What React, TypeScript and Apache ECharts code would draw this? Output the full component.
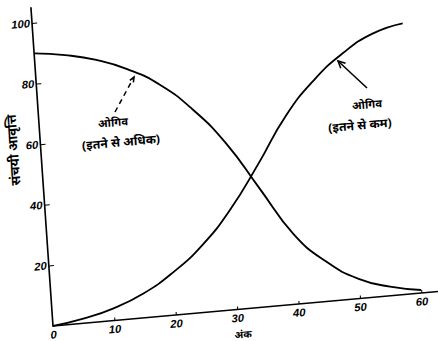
import React, { useEffect, useRef } from "react";
import * as echarts from "echarts";

// Data (ogive curves)
const X_MARKS = [0, 5, 10, 15, 20, 25, 30, 35, 40, 45, 50, 55, 60];
const MORE_THAN = [90, 88.5, 86, 82, 76, 67, 55, 39, 23, 13, 6.5, 3, 1];
const LESS_THAN = [0, 1.5, 4, 8, 14, 22, 33, 47, 62, 73, 81, 86.5, 89];
const X_LABELS = [0, 10, 20, 30, 40, 50, 60];
const X_TICKS = [10, 20, 30, 40, 50, 60];
const Y_LABELS = [20, 40, 60, 80, 100];

const X_TITLE = "अंक";
const Y_TITLE = "संचयी आवृत्ति";
const OGIVE = "ओगिव";
const MORE_LABEL = "(इतने से अधिक)";
const LESS_LABEL = "(इतने से कम)";

// affine transform imitating the tilted scan
const A = 1.0233, B = -0.09167, C = 0.07, D = 1.01, E = -33.25, F = -27.05;
const DET = A * D - B * C;
function toDiv(px: number, py: number): [number, number] {
  const dx = px - E, dy = py - F;
  return [(D * dx - C * dy) / DET, (-B * dx + A * dy) / DET];
}

function arrowHead(tip: [number, number], tail: [number, number], len: number, half: number) {
  const ux = tip[0] - tail[0], uy = tip[1] - tail[1];
  const l = Math.hypot(ux, uy);
  const vx = ux / l, vy = uy / l;
  const px = -vy, py = vx;
  const p1: [number, number] = [tip[0] - len * vx + half * px, tip[1] - len * vy + half * py];
  const p2: [number, number] = [tip[0] - len * vx - half * px, tip[1] - len * vy - half * py];
  return [toDiv(p1[0], p1[1]), toDiv(tip[0], tip[1]), toDiv(p2[0], p2[1])];
}

const HINDI = "'Noto Sans', 'Noto Sans Devanagari', 'Lohit Devanagari', sans-serif";

export default function App() {
  const ref = useRef<HTMLDivElement>(null);
  useEffect(() => {
    if (!ref.current) return;
    const chart = echarts.init(ref.current, undefined, { renderer: "svg" });
    const labelStyle = {
      color: "#000",
      fontSize: 11,
      fontStyle: "italic" as const,
      fontWeight: "bold" as const,
      fontFamily: "'Liberation Sans', sans-serif",
    };
    const txt = (px: number, py: number, text: string, size: number, rot = 0) => {
      const [x, y] = toDiv(px, py);
      return {
        type: "text",
        x,
        y,
        rotation: rot,
        style: {
          text,
          fill: "#000",
          font: `bold ${size}px ${HINDI}`,
          align: "center",
          verticalAlign: "middle",
        },
      };
    };
    const lineEl = (p: [number, number], q: [number, number], dash?: number[]) => {
      const a = toDiv(p[0], p[1]);
      const b = toDiv(q[0], q[1]);
      return {
        type: "line",
        shape: { x1: a[0], y1: a[1], x2: b[0], y2: b[1] },
        style: { stroke: "#000", lineWidth: 1.5, lineDash: dash },
      };
    };
    const rightTip: [number, number] = [338, 61];
    const rightTail: [number, number] = [367, 88];
    const leftTip: [number, number] = [134, 77];
    const leftTail: [number, number] = [115, 112];

    chart.setOption({
      animation: false,
      grid: { left: 60, top: 40, width: 378, height: 315 },
      xAxis: {
        type: "value",
        min: 0,
        max: 63,
        axisLine: { show: true, onZero: true, lineStyle: { color: "#000", width: 1.6 } },
        axisTick: { show: true, inside: true, length: 3, customValues: X_TICKS, lineStyle: { color: "#000" } },
        axisLabel: { ...labelStyle, margin: 3, customValues: X_LABELS },
        splitLine: { show: false },
      },
      yAxis: {
        type: "value",
        min: 0,
        max: 105,
        axisLine: { show: true, lineStyle: { color: "#000", width: 1.6 } },
        axisTick: { show: true, inside: true, length: 5, customValues: Y_LABELS, lineStyle: { color: "#000" } },
        axisLabel: { ...labelStyle, margin: 2, customValues: Y_LABELS },
        splitLine: { show: false },
      },
      series: [
        {
          type: "line",
          data: X_MARKS.map((x, i) => [x, MORE_THAN[i]]),
          smooth: true,
          symbol: "none",
          lineStyle: { color: "#000", width: 1.8 },
        },
        {
          type: "line",
          data: X_MARKS.map((x, i) => [x, LESS_THAN[i]]),
          smooth: true,
          symbol: "none",
          lineStyle: { color: "#000", width: 1.8 },
        },
      ],
      graphic: [
        txt(113, 122, OGIVE, 11),
        txt(121, 142, MORE_LABEL, 12),
        txt(367, 104, OGIVE, 11),
        txt(360, 125, LESS_LABEL, 12),
        txt(243, 334, X_TITLE, 10),
        txt(13, 150, Y_TITLE, 13, Math.PI / 2),
        lineEl(leftTail, leftTip, [5, 4]),
        {
          type: "polyline",
          shape: { points: arrowHead(leftTip, leftTail, 5, 2) },
          style: { stroke: "#000", lineWidth: 1.5, fill: null },
        },
        lineEl(rightTail, rightTip),
        {
          type: "polyline",
          shape: { points: arrowHead(rightTip, rightTail, 7, 3.5) },
          style: { stroke: "#000", lineWidth: 1.5, fill: null },
        },
      ],
    });
    return () => chart.dispose();
  }, []);
  return (
    <div style={{ position: "fixed", left: 0, top: 0, width: 438, height: 341, overflow: "hidden", background: "#fff" }}>
      <div
        ref={ref}
        style={{
          position: "absolute",
          left: 0,
          top: 0,
          width: 480,
          height: 400,
          transformOrigin: "0 0",
          transform: `matrix(${A}, ${B}, ${C}, ${D}, ${E}, ${F})`,
        }}
      />
    </div>
  );
}
